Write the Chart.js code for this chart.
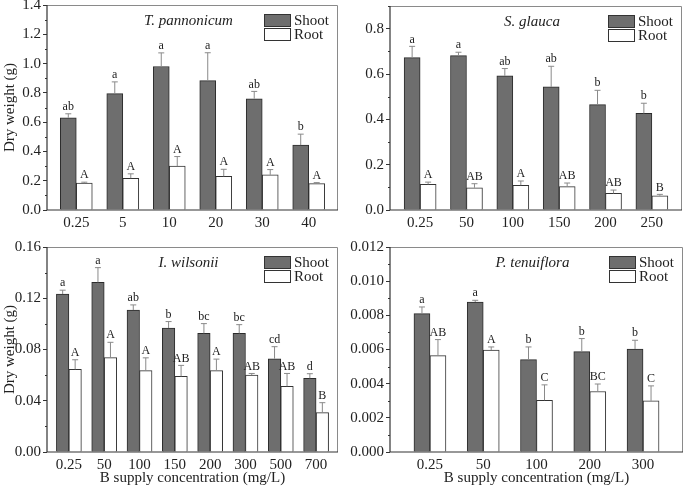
<!DOCTYPE html>
<html lang="en">
<head>
  <meta charset="UTF-8">
  <title>B supply - dry weight</title>
  <script src="https://cdn.jsdelivr.net/npm/chart.js"></script>
  <style>
    body { margin: 0; background: #fff; }
    #fig { position: relative; width: 685px; height: 488px; overflow: hidden; }
    #fig canvas { position: absolute; }
  </style>
</head>
<body>
  <div id="fig">
    <canvas id="pTp" width="342" height="240" style="left:0;top:0"></canvas>
    <canvas id="pSg" width="343" height="240" style="left:342px;top:0"></canvas>
    <canvas id="pIw" width="342" height="248" style="left:0;top:240px"></canvas>
    <canvas id="pPt" width="343" height="248" style="left:342px;top:240px"></canvas>
  </div>

  <script>
    // T. pannonicum
    const catsTp = ['0.25', '5', '10', '20', '30', '40'];
    const shootTp = [0.63, 0.795, 0.98, 0.884, 0.76, 0.443];
    const shootErrTp = [0.027, 0.08, 0.093, 0.19, 0.05, 0.075];
    const rootTp = [0.183, 0.217, 0.30, 0.23, 0.24, 0.18];
    const rootErrTp = [0.007, 0.03, 0.065, 0.048, 0.036, 0.007];
    const shootLetTp = ['ab', 'a', 'a', 'a', 'ab', 'b'];
    const rootLetTp = ['A', 'A', 'A', 'A', 'A', 'A'];
    const yTicksTp = [0, 0.2, 0.4, 0.6, 0.8, 1.0, 1.2, 1.4];

    // S. glauca
    const catsSg = ['0.25', '50', '100', '150', '200', '250'];
    const shootSg = [0.672, 0.681, 0.592, 0.543, 0.465, 0.426];
    const shootErrSg = [0.05, 0.015, 0.032, 0.091, 0.063, 0.045];
    const rootSg = [0.113, 0.098, 0.109, 0.103, 0.073, 0.063];
    const rootErrSg = [0.01, 0.018, 0.019, 0.016, 0.015, 0.006];
    const shootLetSg = ['a', 'a', 'ab', 'ab', 'b', 'b'];
    const rootLetSg = ['A', 'AB', 'A', 'AB', 'AB', 'B'];
    const yTicksSg = [0, 0.2, 0.4, 0.6, 0.8];

    // I. wilsonii
    const catsIw = ['0.25', '50', '100', '150', '200', '300', '500', '700'];
    const shootIw = [0.1233, 0.1324, 0.1108, 0.0968, 0.0926, 0.0926, 0.0728, 0.0575];
    const shootErrIw = [0.003, 0.0115, 0.004, 0.005, 0.0076, 0.0068, 0.0094, 0.0036];
    const rootIw = [0.0645, 0.0736, 0.0635, 0.059, 0.0635, 0.060, 0.0513, 0.0307];
    const rootErrIw = [0.0075, 0.012, 0.01, 0.0086, 0.009, 0.0013, 0.01, 0.0078];
    const shootLetIw = ['a', 'a', 'ab', 'b', 'bc', 'bc', 'cd', 'd'];
    const rootLetIw = ['A', 'A', 'A', 'AB', 'A', 'AB', 'AB', 'B'];
    const yTicksIw = [0, 0.04, 0.08, 0.12, 0.16];

    // P. tenuiflora
    const catsPt = ['0.25', '50', '100', '200', '300'];
    const shootPt = [0.0081, 0.00878, 0.00541, 0.00588, 0.00603];
    const shootErrPt = [0.00039, 0.0001, 0.00074, 0.00076, 0.00051];
    const rootPt = [0.00564, 0.00597, 0.00303, 0.00354, 0.00299];
    const rootErrPt = [0.00094, 0.00018, 0.0009, 0.00044, 0.00088];
    const shootLetPt = ['a', 'a', 'b', 'b', 'b'];
    const rootLetPt = ['AB', 'A', 'C', 'BC', 'C'];
    const yTicksPt = [0, 0.002, 0.004, 0.006, 0.008, 0.010, 0.012];

    const shootFill = '#6e6e6e';
    const ink = '#222';
    Chart.defaults.font.family = "'Liberation Serif', 'Times New Roman', serif";
    Chart.defaults.color = ink;

    function makePanel(canvasId, p) {
      const canvas = document.getElementById(canvasId);
      const H = canvas.height, W = canvas.width;

      // frame, minor ticks, error bars, letters, legend, species name
      const decor = {
        id: 'decor',
        afterDatasetsDraw(chart) {
          const c = chart.ctx, a = chart.chartArea, ys = chart.scales.y;
          c.save();
          // error bars + letters
          chart.data.datasets.forEach((ds, di) => {
            const meta = chart.getDatasetMeta(di);
            meta.data.forEach((bar, i) => {
              const v = ds.data[i].y;
              const top = ys.getPixelForValue(v + ds.err[i]);
              c.strokeStyle = '#8a8a8a';
              c.lineWidth = 1;
              c.beginPath();
              c.moveTo(bar.x, bar.y);
              c.lineTo(bar.x, top);
              c.moveTo(bar.x - 3, top);
              c.lineTo(bar.x + 3, top);
              c.stroke();
              c.fillStyle = ink;
              c.font = "12px 'Liberation Serif'";
              c.textAlign = 'center';
              c.textBaseline = 'bottom';
              c.fillText(ds.letters[i], bar.x, top - 1);
            });
          });
          // minor ticks
          c.strokeStyle = '#333';
          c.beginPath();
          for (let i = 0; i < p.yTicks.length; i++) {
            const step = p.yTicks[1] - p.yTicks[0];
            const m = p.yTicks[i] + step / 2;
            if (m > p.max + 1e-9) break;
            const y = Math.round(ys.getPixelForValue(m)) + 0.5;
            c.moveTo(a.left - 2, y);
            c.lineTo(a.left, y);
          }
          c.stroke();
          // frame
          c.strokeStyle = '#8a8a8a';
          c.lineWidth = 1;
          c.beginPath();
          c.moveTo(a.left, a.top + 0.5);
          c.lineTo(a.right - 0.5, a.top + 0.5);
          c.lineTo(a.right - 0.5, a.bottom);
          c.stroke();
          c.strokeStyle = '#333';
          c.lineWidth = 1.2;
          c.beginPath();
          c.moveTo(a.left, a.top);
          c.lineTo(a.left, a.bottom);
          c.lineTo(a.right, a.bottom);
          c.stroke();
          // species name
          c.fillStyle = ink;
          c.font = "italic 15px 'Liberation Serif'";
          c.textAlign = 'center';
          c.textBaseline = 'middle';
          c.fillText(p.name, (a.left + a.right) / 2 - 4, a.top + 16);
          // legend
          const bx = a.right - 47 - 27;
          [['Shoot', shootFill, 9], ['Root', '#fff', 23]].forEach(([lab, col, dy]) => {
            c.fillStyle = col;
            c.fillRect(bx, a.top + dy, 27, 13);
            c.strokeStyle = '#333';
            c.lineWidth = 1;
            c.strokeRect(bx + 0.5, a.top + dy + 0.5, 26, 12);
            c.fillStyle = ink;
            c.font = "15px 'Liberation Serif'";
            c.textAlign = 'left';
            c.textBaseline = 'middle';
            c.fillText(lab, bx + 30, a.top + dy + 7);
          });
          c.restore();
        }
      };

      return new Chart(canvas, {
        type: 'bar',
        data: {
          datasets: [
            {
              label: 'Shoot',
              data: p.shoot.map((v, i) => ({ x: i, y: v })),
              err: p.shootErr,
              letters: p.shootLet,
              backgroundColor: shootFill,
              borderColor: '#2b2b2b',
              borderWidth: 1,
              barThickness: p.bar
            },
            {
              label: 'Root',
              data: p.root.map((v, i) => ({ x: i, y: v })),
              err: p.rootErr,
              letters: p.rootLet,
              backgroundColor: '#ffffff',
              borderColor: '#333',
              borderWidth: 1,
              barThickness: p.bar
            }
          ]
        },
        options: {
          responsive: false,
          animation: false,
          layout: { padding: { left: 0, right: W - p.right, top: p.top, bottom: 0 } },
          plugins: { legend: { display: false }, tooltip: { enabled: false } },
          scales: {
            x: {
              type: 'linear',
              offset: false,
              min: -p.pad,
              max: p.cats.length - 1 + p.pad,
              grid: { display: false, drawTicks: false },
              border: { display: false },
              afterBuildTicks: s => { s.ticks = p.cats.map((c, i) => ({ value: i })); },
              ticks: {
                callback: v => p.cats[v],
                autoSkip: false,
                maxRotation: 0,
                padding: 4,
                font: { size: 15 }
              },
              title: {
                display: p.xTitle,
                text: 'B supply concentration (mg/L)',
                font: { size: 15 },
                padding: { top: 0, bottom: 1 }
              },
              afterFit: s => { s.height = H - p.bottom; s.paddingLeft = 0; s.paddingRight = 0; }
            },
            y: {
              min: 0,
              max: p.max,
              border: { display: false },
              grid: { drawOnChartArea: false, drawTicks: true, tickLength: 4, color: '#333' },
              afterBuildTicks: s => { s.ticks = p.yTicks.map(v => ({ value: v })); },
              ticks: { callback: v => v.toFixed(p.dec), padding: 2, font: { size: 15 } },
              title: {
                display: p.yTitle,
                text: 'Dry weight (g)',
                font: { size: 15 },
                padding: { top: 1, bottom: 0 }
              },
              afterFit: s => { s.width = p.left; s.paddingTop = 0; s.paddingBottom = 0; }
            }
          }
        },
        plugins: [decor]
      });
    }

    makePanel('pTp', {
      name: 'T. pannonicum', cats: catsTp, shoot: shootTp, shootErr: shootErrTp, root: rootTp, rootErr: rootErrTp,
      shootLet: shootLetTp, rootLet: rootLetTp, yTicks: yTicksTp, max: 1.4, dec: 1,
      left: 47, right: 338, top: 5, bottom: 210, pad: 0.63, bar: 16, xTitle: false, yTitle: true
    });
    makePanel('pSg', {
      name: 'S. glauca', cats: catsSg, shoot: shootSg, shootErr: shootErrSg, root: rootSg, rootErr: rootErrSg,
      shootLet: shootLetSg, rootLet: rootLetSg, yTicks: yTicksSg, max: 0.9, dec: 1,
      left: 48, right: 340, top: 6, bottom: 210, pad: 0.65, bar: 16, xTitle: false, yTitle: false
    });
    makePanel('pIw', {
      name: 'I. wilsonii', cats: catsIw, shoot: shootIw, shootErr: shootErrIw, root: rootIw, rootErr: rootErrIw,
      shootLet: shootLetIw, rootLet: rootLetIw, yTicks: yTicksIw, max: 0.16, dec: 2,
      left: 47, right: 338, top: 7, bottom: 212, pad: 0.62, bar: 12.5, xTitle: true, yTitle: true
    });
    makePanel('pPt', {
      name: 'P. tenuiflora', cats: catsPt, shoot: shootPt, shootErr: shootErrPt, root: rootPt, rootErr: rootErrPt,
      shootLet: shootLetPt, rootLet: rootLetPt, yTicks: yTicksPt, max: 0.012, dec: 3,
      left: 48, right: 341, top: 7, bottom: 212, pad: 0.75, bar: 16, xTitle: true, yTitle: false
    });
  </script>
</body>
</html>
